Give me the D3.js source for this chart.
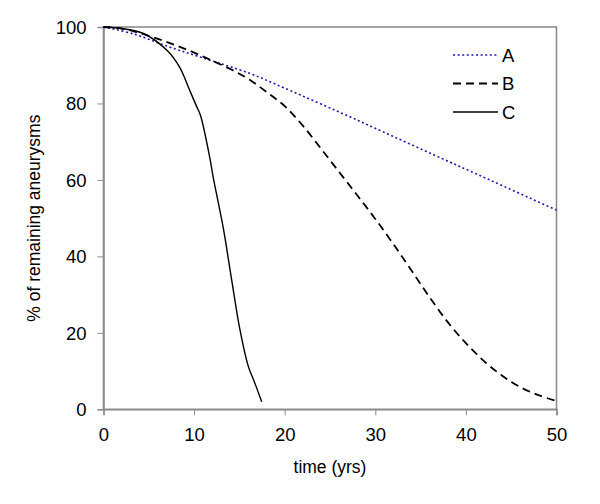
<!DOCTYPE html>
<html><head><meta charset="utf-8">
<script src="https://cdn.jsdelivr.net/npm/d3@7"></script>
<style>body{margin:0;background:#fff}svg{display:block}text{font-family:"Liberation Sans",Arial,sans-serif}</style>
</head><body>
<svg id="c" width="600" height="504"></svg>
<script>
const seriesNames = ["A", "B", "C"];
const xTicks = [0, 10, 20, 30, 40, 50];
const yTicks = [0, 20, 40, 60, 80, 100];
const aT = [0, 3.3, 7, 10.6, 16.2, 20, 27.2, 30, 38.2, 40, 50];
const aV = [100, 98.2, 95.0, 92.2, 87.8, 84, 76.5, 73.5, 64.7, 62.8, 52.1];
const bT = [0, 2, 4, 6, 8, 10, 12, 14, 16, 18, 20, 22, 24, 26, 28, 30, 32, 34, 36, 38, 40, 42, 44, 46, 48, 50];
const bV = [100, 99.6, 98.4, 96.9, 95.2, 93.3, 91.2, 89, 86.4, 83, 79.3, 74.2, 68.2, 62.1, 56, 49.8, 43.2, 36.3, 29.3, 22.8, 17.3, 12.6, 8.8, 5.8, 3.7, 2.2];
const cT = [0, 2, 4.4, 7, 8.4, 9.5, 10.3, 10.7, 11.75, 12.1, 13.2, 14.15, 15.07, 16.0, 16.6, 17.46];
const cV = [100, 99.6, 98.3, 93.9, 89.5, 83.5, 79.1, 76.9, 65.6, 60.8, 47.7, 33.8, 20.7, 11.1, 7.5, 2.0];

const svg = d3.select("#c");
const L = 103.5, R = 556.5, T = 27, B = 409.3;
const x = d3.scaleLinear().domain([0, 50]).range([L, R]);
const y = d3.scaleLinear().domain([0, 100]).range([B, T]);
const grey = "#8c8c8c";

svg.append("rect").attr("x", L).attr("y", T).attr("width", R - L).attr("height", B - T)
  .attr("fill", "none").attr("stroke", grey).attr("stroke-width", 1.6);

const xa = svg.append("g").attr("transform", `translate(0,${B})`)
  .call(d3.axisBottom(x).tickValues(xTicks).tickSize(6).tickPadding(13));
const ya = svg.append("g").attr("transform", `translate(${L},0)`)
  .call(d3.axisLeft(y).tickValues(yTicks).tickSize(6).tickPadding(11));
[xa, ya].forEach(g => {
  g.select(".domain").attr("stroke", grey).attr("stroke-width", 1.6);
  g.selectAll(".tick line").attr("stroke", grey).attr("stroke-width", 1);
  g.selectAll(".tick text").attr("fill", "#000").style("font-size", "18.5px")
    .style("font-family", '"Liberation Sans", Arial, sans-serif');
});
ya.selectAll(".tick text").attr("dy", "0.35em");

const line = d3.line().x(d => x(d[0])).y(d => y(d[1])).curve(d3.curveCatmullRom.alpha(0.5));
const series = [
  {name: seriesNames[0], pts: d3.zip(aT, aV), color: "#1a1aa8", dash: "2,2.6", w: 1.6},
  {name: seriesNames[1], pts: d3.zip(bT, bV), color: "#000", dash: "8,5", w: 1.8},
  {name: seriesNames[2], pts: d3.zip(cT, cV), color: "#000", dash: null, w: 1.4}
];
series.forEach(s => {
  svg.append("path").datum(s.pts).attr("d", line)
    .attr("fill", "none").attr("stroke", s.color).attr("stroke-width", s.w)
    .attr("stroke-dasharray", s.dash);
});

const legY = [55, 83.5, 112];
series.forEach((s, i) => {
  svg.append("line").attr("x1", 453).attr("x2", 498).attr("y1", legY[i]).attr("y2", legY[i])
    .attr("stroke", s.color).attr("stroke-width", s.w).attr("stroke-dasharray", s.dash);
  svg.append("text").attr("x", 502).attr("y", legY[i]).attr("dy", "0.36em")
    .style("font-size", "18.5px").text(s.name);
});

svg.append("text").attr("x", (L + R) / 2).attr("y", 473).attr("text-anchor", "middle")
  .style("font-size", "17.5px").text("time (yrs)");
svg.append("text").attr("transform", `translate(40,${(T + B) / 2}) rotate(-90)`)
  .attr("text-anchor", "middle").style("font-size", "17.5px").text("% of remaining aneurysms");
</script>
</body></html>
